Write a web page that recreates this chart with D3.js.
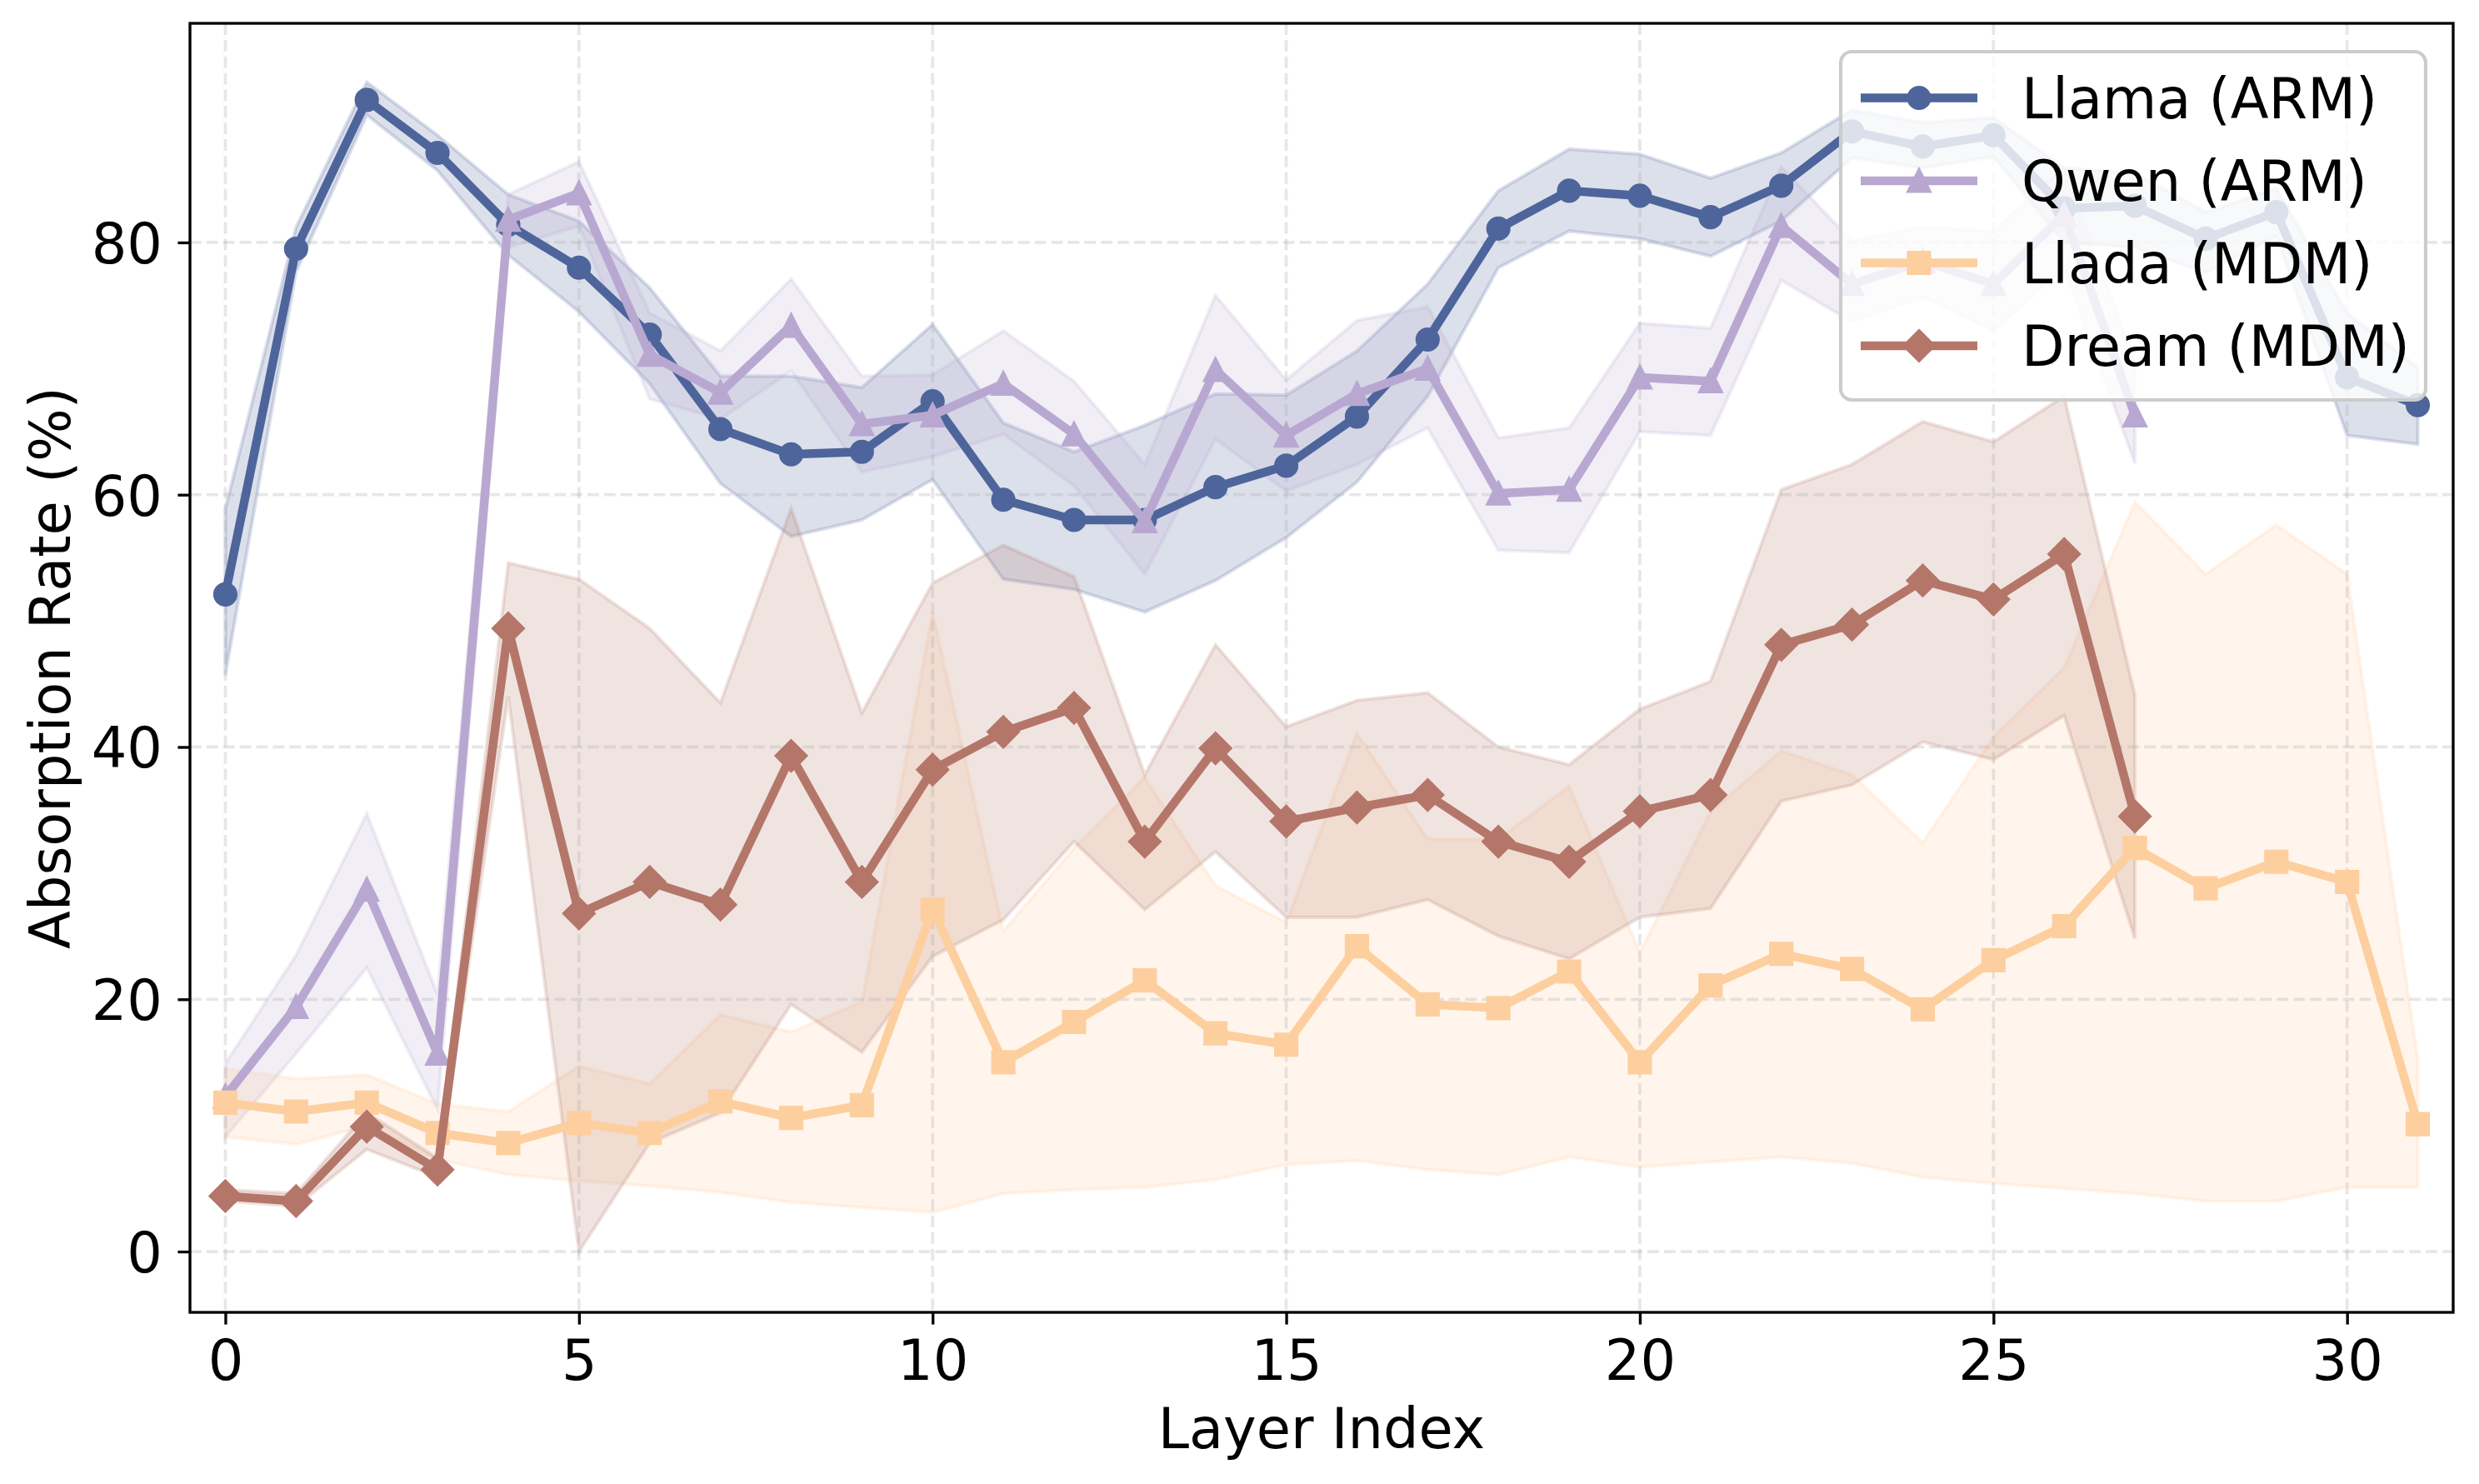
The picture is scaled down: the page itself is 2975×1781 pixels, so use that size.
<!DOCTYPE html>
<html>
<head>
<meta charset="utf-8">
<script src="https://cdn.jsdelivr.net/npm/d3@7/dist/d3.min.js"></script>
<style>
  html, body { margin: 0; padding: 0; background: #ffffff; }
  svg { display: block; }
  text { font-family: "DejaVu Sans", sans-serif; }
</style>
</head>
<body>
<svg id="chart" width="2975" height="1781"></svg>
<script>
// ---------------- DATA ----------------
const xTicks = [0, 5, 10, 15, 20, 25, 30];
const yTicks = [0, 20, 40, 60, 80];
const seriesNames = ["Llama (ARM)", "Qwen (ARM)", "Llada (MDM)", "Dream (MDM)"];

const llamaMean  = [52.1, 79.5, 91.3, 87.1, 81.4, 78.0, 72.7, 65.2, 63.2, 63.4, 67.4, 59.6, 58.0, 58.0, 60.6, 62.3, 66.2, 72.3, 81.1, 84.1, 83.7, 82.0, 84.5, 88.8, 87.6, 88.5, 82.7, 82.9, 80.3, 82.4, 69.3, 67.1];
const llamaUpper = [58.9, 81.2, 92.7, 88.5, 83.8, 81.7, 76.4, 69.4, 69.4, 68.5, 73.5, 65.7, 63.4, 65.5, 68.0, 67.9, 71.4, 76.7, 84.1, 87.4, 87.0, 85.1, 87.1, 90.5, 89.5, 89.9, 85.9, 85.5, 82.4, 84.3, 74.4, 70.1];
const llamaLower = [45.7, 77.7, 90.1, 85.7, 79.0, 74.5, 68.8, 60.9, 56.7, 58.0, 61.2, 53.3, 52.5, 50.7, 53.2, 56.6, 61.0, 67.8, 78.0, 80.9, 80.3, 78.9, 81.7, 86.7, 85.9, 86.8, 80.0, 79.6, 77.6, 80.5, 64.7, 64.0];

const qwenMean  = [12.3, 19.4, 28.7, 15.7, 81.8, 83.9, 71.1, 68.1, 73.4, 65.6, 66.3, 68.8, 64.8, 57.9, 69.9, 64.7, 68.0, 70.0, 60.1, 60.4, 69.3, 69.0, 81.3, 76.7, 78.5, 76.7, 82.2, 66.3];
const qwenUpper = [14.9, 23.5, 34.7, 20.4, 83.8, 86.4, 74.4, 71.4, 77.1, 69.4, 69.5, 73.0, 69.0, 62.4, 75.8, 69.1, 73.8, 74.9, 64.5, 65.3, 73.6, 73.2, 86.0, 80.1, 81.2, 80.9, 86.0, 70.5];
const qwenLower = [9.1, 15.7, 22.5, 11.3, 79.6, 81.3, 67.6, 66.0, 69.8, 61.8, 63.0, 64.8, 60.7, 53.7, 64.4, 60.3, 62.4, 65.3, 55.6, 55.4, 65.0, 64.7, 77.0, 73.7, 75.7, 73.0, 78.0, 62.5];

const lladaMean  = [11.8, 11.1, 11.8, 9.4, 8.6, 10.2, 9.4, 11.9, 10.6, 11.6, 27.1, 15.0, 18.2, 21.5, 17.3, 16.4, 24.2, 19.6, 19.3, 22.2, 15.0, 21.1, 23.6, 22.4, 19.2, 23.1, 25.8, 32.0, 28.8, 30.9, 29.3, 10.1];
const lladaUpper = [14.5, 13.7, 14.0, 11.7, 11.1, 14.7, 13.3, 18.8, 17.4, 19.8, 50.7, 25.4, 32.0, 37.6, 29.0, 26.1, 41.1, 32.7, 32.7, 36.9, 23.7, 34.9, 39.7, 37.8, 32.4, 40.8, 46.3, 59.4, 53.7, 57.6, 53.7, 15.2];
const lladaLower = [9.1, 8.5, 10.0, 7.3, 6.1, 5.6, 5.2, 4.7, 3.9, 3.5, 3.1, 4.6, 4.9, 5.1, 5.7, 6.9, 7.2, 6.5, 6.1, 7.5, 6.7, 7.1, 7.5, 7.0, 5.9, 5.4, 5.0, 4.6, 4.0, 4.0, 5.1, 5.1];

const dreamMean  = [4.4, 4.0, 9.9, 6.5, 49.4, 26.8, 29.3, 27.5, 39.3, 29.3, 38.2, 41.2, 43.1, 32.5, 39.9, 34.1, 35.2, 36.2, 32.5, 30.9, 34.9, 36.2, 48.1, 49.7, 53.2, 51.7, 55.3, 34.5];
const dreamUpper = [4.9, 4.6, 11.0, 7.4, 54.6, 53.3, 49.4, 43.5, 58.9, 42.7, 53.0, 56.0, 53.5, 37.8, 48.1, 41.6, 43.7, 44.3, 40.0, 38.6, 43.0, 45.2, 60.4, 62.4, 65.8, 64.2, 67.8, 44.1];
const dreamLower = [4.0, 3.6, 8.1, 5.9, 44.0, 0.0, 8.6, 11.0, 19.6, 15.8, 23.4, 26.3, 32.5, 27.1, 31.7, 26.5, 26.5, 27.9, 25.0, 23.2, 26.5, 27.2, 35.7, 37.0, 40.4, 39.0, 42.5, 24.8];

// ---------------- STYLE ----------------
const colors = ["#4e659b", "#b8a8d1", "#fdcf9f", "#b5766a"];
const markers = ["circle", "triangle", "square", "diamond"];
const means = [llamaMean, qwenMean, lladaMean, dreamMean];
const uppers = [llamaUpper, qwenUpper, lladaUpper, dreamUpper];
const lowers = [llamaLower, qwenLower, lladaLower, dreamLower];

const PT = 300 / 72;
const W = 2975, H = 1781;
const plot = { left: 228, right: 2944, top: 28, bottom: 1575 };
const FS = 67;

const svg = d3.select("#chart");
svg.append("rect").attr("width", W).attr("height", H).attr("fill", "#fff");

const x = d3.scaleLinear().domain([-0.5, 31.5]).range([plot.left, plot.right]);
const y = d3.scaleLinear().domain([-4.82, 97.37]).range([plot.bottom, plot.top]);

svg.append("defs").append("clipPath").attr("id", "clip")
  .append("rect").attr("x", plot.left).attr("y", plot.top)
  .attr("width", plot.right - plot.left).attr("height", plot.bottom - plot.top);

const g = svg.append("g").attr("clip-path", "url(#clip)");

// bands
const area = d3.area().x((d, i) => x(i)).y0(d => y(d[0])).y1(d => y(d[1]));
means.forEach((m, k) => {
  const data = m.map((_, i) => [lowers[k][i], uppers[k][i]]);
  g.append("path").datum(data).attr("d", area)
    .attr("fill", colors[k]).attr("fill-opacity", 0.2)
    .attr("stroke", colors[k]).attr("stroke-opacity", 0.2)
    .attr("stroke-width", 1.0 * PT).attr("stroke-linejoin", "miter");
});

// grid
const gridG = g.append("g");
const dash = `${3.7 * 0.9 * PT},${1.6 * 0.9 * PT}`;
xTicks.forEach(t => {
  gridG.append("line").attr("x1", x(t)).attr("x2", x(t)).attr("y1", plot.top).attr("y2", plot.bottom)
    .attr("stroke", "#b0b0b0").attr("stroke-opacity", 0.3).attr("stroke-width", 0.9 * PT)
    .attr("stroke-dasharray", dash);
});
yTicks.forEach(t => {
  gridG.append("line").attr("y1", y(t)).attr("y2", y(t)).attr("x1", plot.left).attr("x2", plot.right)
    .attr("stroke", "#b0b0b0").attr("stroke-opacity", 0.3).attr("stroke-width", 0.9 * PT)
    .attr("stroke-dasharray", dash);
});

// marker path generator
const MS = 6 * PT;
function markerPath(type) {
  const h = MS / 2;
  if (type === "circle") return d3.symbol().type(d3.symbolCircle).size(Math.PI * h * h)();
  if (type === "square") return `M${-h},${-h}L${h},${-h}L${h},${h}L${-h},${h}Z`;
  if (type === "triangle") return `M0,${-h}L${h},${h}L${-h},${h}Z`;
  if (type === "diamond") { const d = MS * Math.SQRT1_2; return `M0,${-d}L${d},0L0,${d}L${-d},0Z`; }
}

const line = d3.line().x((d, i) => x(i)).y(d => y(d));
means.forEach((m, k) => {
  const sg = g.append("g");
  sg.append("path").datum(m).attr("d", line)
    .attr("fill", "none").attr("stroke", colors[k]).attr("stroke-width", 2.5 * PT)
    .attr("stroke-linejoin", "round").attr("stroke-linecap", "square");
  sg.selectAll("path.mk").data(m).enter().append("path").attr("class", "mk")
    .attr("d", markerPath(markers[k]))
    .attr("transform", (d, i) => `translate(${x(i)},${y(d)})`)
    .attr("fill", colors[k]).attr("stroke", colors[k]).attr("stroke-width", 1.0 * PT);
});

// axes
const xAxis = d3.axisBottom(x).tickValues(xTicks).tickSize(3.5 * PT).tickPadding(3.5 * PT).tickFormat(d3.format("d"));
const yAxis = d3.axisLeft(y).tickValues(yTicks).tickSize(3.5 * PT).tickPadding(3.5 * PT).tickFormat(d3.format("d"));
const xg = svg.append("g").attr("transform", `translate(0,${plot.bottom})`).call(xAxis);
const yg = svg.append("g").attr("transform", `translate(${plot.left},0)`).call(yAxis);
[xg, yg].forEach(a => {
  a.select(".domain").remove();
  a.selectAll(".tick line").attr("stroke", "#000").attr("stroke-width", 0.8 * PT);
  a.selectAll(".tick text").attr("fill", "#000").attr("font-size", FS)
    .attr("font-family", "DejaVu Sans");
});
xg.selectAll(".tick text").attr("dy", null).attr("y", 1656 - plot.bottom);
yg.selectAll(".tick text").attr("dy", null).attr("y", 0.729 * FS / 2).attr("x", -(plot.left - 195));

// spines
svg.append("rect").attr("x", plot.left).attr("y", plot.top)
  .attr("width", plot.right - plot.left).attr("height", plot.bottom - plot.top)
  .attr("fill", "none").attr("stroke", "#000").attr("stroke-width", 0.8 * PT);

// axis labels
svg.append("text").attr("x", (plot.left + plot.right) / 2).attr("y", 1738)
  .attr("text-anchor", "middle").attr("font-size", FS).attr("fill", "#000").text("Layer Index");
svg.append("text").attr("transform", `translate(84,${(plot.top + plot.bottom) / 2}) rotate(-90)`)
  .attr("text-anchor", "middle").attr("font-size", FS).attr("fill", "#000").text("Absorption Rate (%)");

// legend
const lg = svg.append("g");
const L = { x: 2209, y: 62, w: 2911 - 2209, h: 480 - 62 };
lg.append("rect").attr("x", L.x).attr("y", L.y).attr("width", L.w).attr("height", L.h)
  .attr("rx", 0.2 * FS).attr("ry", 0.2 * FS)
  .attr("fill", "#fff").attr("fill-opacity", 0.8)
  .attr("stroke", "#cccccc").attr("stroke-width", 1.0 * PT);
const rowY = [117.5, 217, 315.5, 415];
seriesNames.forEach((name, k) => {
  const cy = rowY[k];
  lg.append("line").attr("x1", 2233).attr("x2", 2373).attr("y1", cy).attr("y2", cy)
    .attr("stroke", colors[k]).attr("stroke-width", 2.5 * PT);
  lg.append("path").attr("d", markerPath(markers[k])).attr("transform", `translate(2303,${cy})`)
    .attr("fill", colors[k]).attr("stroke", colors[k]).attr("stroke-width", 1.0 * PT);
  lg.append("text").attr("x", 2426).attr("y", cy + 0.729 * FS / 2).attr("font-size", FS)
    .attr("fill", "#000").text(name);
});
</script>
</body>
</html>
